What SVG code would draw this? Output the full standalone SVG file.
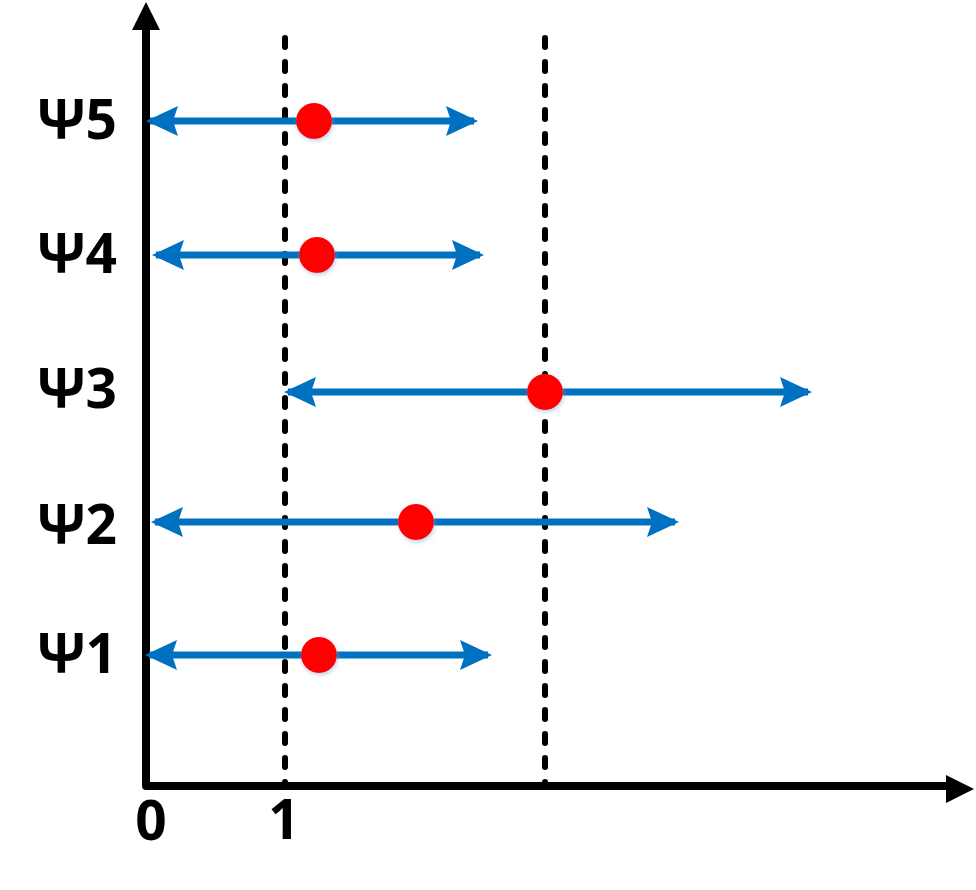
<svg xmlns="http://www.w3.org/2000/svg" width="976" height="890" viewBox="0 0 976 890">
<style>
.axis{stroke:#000;stroke-width:8;fill:none}
.dash{stroke:#000;stroke-width:6;stroke-dasharray:9 15;stroke-linecap:round;fill:none}
.blue{stroke:#0070C0;stroke-width:7;fill:none}
.dot{fill:#FF0000;filter:url(#sh)}
.lbl{font-family:"Open Sans","Liberation Sans",sans-serif;font-weight:bold;font-size:55px;fill:#000}
</style>
<defs>
<marker id="bh" markerUnits="userSpaceOnUse" markerWidth="32" markerHeight="32" viewBox="0 0 32 32" refX="28" refY="16" orient="auto-start-reverse">
<path d="M0,1 L32,16 L0,31 L5,16 Z" fill="#0070C0"/>
</marker>
<filter id="sh" x="-50%" y="-50%" width="200%" height="200%">
<feDropShadow dx="1" dy="2" stdDeviation="2" flood-color="#7aa7d6" flood-opacity="0.5"/>
</filter>
</defs>
<g id="axes">
<path class="axis" d="M146,30 L146,786 L946,786" stroke-linejoin="round"/>
<path d="M146,2 L160,30 L132,30 Z" fill="#000"/>
<path d="M974,789 L946,775 L946,803 Z" fill="#000"/>
</g>
<g id="guides">
<line class="dash" x1="285" y1="38" x2="285" y2="786"/>
<line class="dash" x1="545" y1="38" x2="545" y2="786"/>
</g>
<g id="connectors">
<line class="blue" x1="150" y1="121" x2="474" y2="121" marker-start="url(#bh)" marker-end="url(#bh)"/>
<line class="blue" x1="156" y1="255" x2="480" y2="255" marker-start="url(#bh)" marker-end="url(#bh)"/>
<line class="blue" x1="288" y1="392" x2="808" y2="392" marker-start="url(#bh)" marker-end="url(#bh)"/>
<line class="blue" x1="155" y1="522" x2="675" y2="522" marker-start="url(#bh)" marker-end="url(#bh)"/>
<line class="blue" x1="149" y1="655" x2="488" y2="655" marker-start="url(#bh)" marker-end="url(#bh)"/>
</g>
<g id="psi5"><circle class="dot" cx="314" cy="121" r="18"/><text class="lbl" x="117" y="139" text-anchor="end">Ψ5</text></g>
<g id="psi4"><circle class="dot" cx="317" cy="255" r="18"/><text class="lbl" x="117" y="273" text-anchor="end">Ψ4</text></g>
<g id="psi3"><circle class="dot" cx="545" cy="392" r="18"/><text class="lbl" x="117" y="408" text-anchor="end">Ψ3</text></g>
<g id="psi2"><circle class="dot" cx="416" cy="522" r="18"/><text class="lbl" x="117" y="544" text-anchor="end">Ψ2</text></g>
<g id="psi1"><circle class="dot" cx="319" cy="655" r="18"/><text class="lbl" x="117" y="673" text-anchor="end">Ψ1</text></g>
<g id="ticks">
<text class="lbl" x="151" y="840" text-anchor="middle">0</text>
<text class="lbl" x="284" y="839" text-anchor="middle">1</text>
</g>
</svg>
